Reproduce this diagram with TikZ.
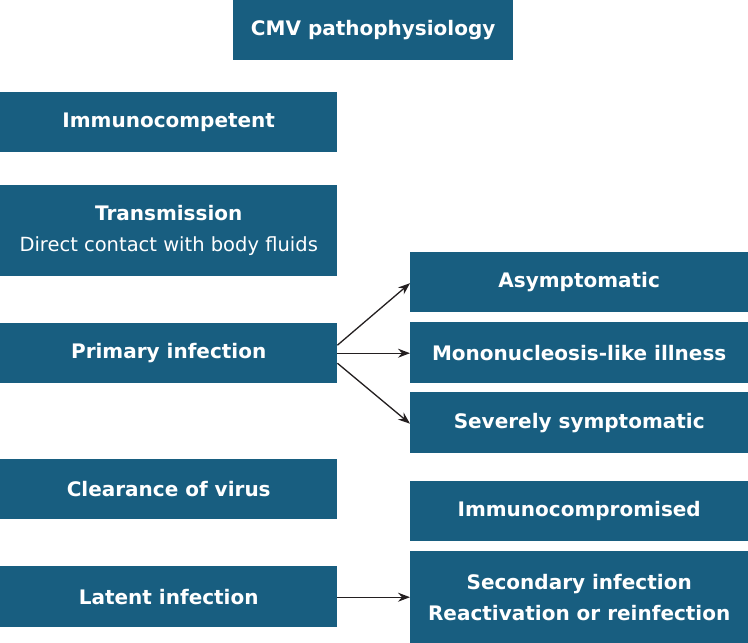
\documentclass[tikz,border=0pt]{standalone}
\usepackage{fontspec}
\setmainfont{DejaVu Sans}
\usetikzlibrary{arrows.meta}
\definecolor{boxblue}{RGB}{24,94,128}
\definecolor{arrowdark}{RGB}{35,31,32}
\tikzset{
  box/.style={fill=boxblue, draw=none, text=white, anchor=north west, inner sep=0pt,
    align=center, font=\fontsize{20pt}{31pt}\selectfont\bfseries},
  wide/.style={minimum width=337pt},
  wider/.style={minimum width=338pt},
  hsingle/.style={minimum height=60pt},
  hdouble/.style={minimum height=91pt},
  conn/.style={draw=arrowdark, line width=1.3pt, -{Stealth[length=12pt,width=9pt,inset=4pt]}}
}
\begin{document}
\begin{tikzpicture}[x=1pt,y=-1pt]
\useasboundingbox (0,0) rectangle (748,643);
\node[box, minimum width=280pt, hsingle] (title) at (233,0) {CMV pathophysiology};
\node[box, wide, hsingle] (comp) at (0,92) {Immunocompetent};
\node[box, wide, hdouble] (trans) at (0,185) {Transmission\\\mdseries\fontsize{19.5pt}{31pt}\selectfont Direct contact with body fluids};
\node[box, wide, hsingle] (prim) at (0,323) {Primary infection};
\node[box, wide, hsingle] (clear) at (0,459) {Clearance of virus};
\node[box, wide, minimum height=61pt] (latent) at (0,566) {Latent infection};
\node[box, wider, hsingle] (asym) at (410,252) {Asymptomatic};
\node[box, wider, minimum height=61pt] (mono) at (410,322) {Mononucleosis-like illness};
\node[box, wider, minimum height=61pt] (sev) at (410,392) {Severely symptomatic};
\node[box, wider, hsingle] (icomp) at (410,481) {Immunocompromised};
\node[box, wider, minimum height=92pt] (sec) at (410,551) {Secondary infection\\Reactivation or reinfection};
\draw[conn] ([yshift=8pt]prim.east) -- ([yshift=-1pt]asym.west);
\draw[conn] (prim.east) -- (prim.east -| mono.west);
\draw[conn] ([yshift=-10pt]prim.east) -- ([yshift=-1pt]sev.west);
\draw[conn] ([yshift=-0.5pt]latent.east) -- ([yshift=-0.5pt]latent.east -| sec.west);
\end{tikzpicture}
\end{document}
